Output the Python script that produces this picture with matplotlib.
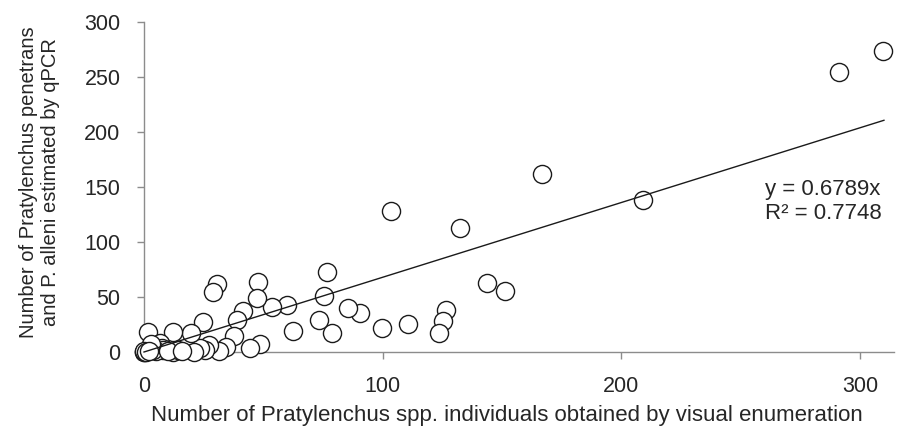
import numpy as np
import matplotlib
matplotlib.use("Agg")
import matplotlib.pyplot as plt

plt.rcParams['font.family'] = ['Liberation Sans', 'DejaVu Sans']

# visual counts (x) vs qPCR estimates (y)
visual = [309.5, 291, 209.2, 166.6, 132.5, 103.5, 151.4, 143.6, 126.4, 125.4,
          123.5, 110.5, 99.6, 90.5, 85.6, 78.6, 76.5, 75.4, 73.5, 62.6,
          59.7, 53.8, 47.7, 47.5, 48.6, 44.4, 41.6, 38.8, 37.8, 30.4,
          28.8, 24.8, 34.2, 31.5, 27.2, 25.5, 23.5, 21.0, 19.5, 12.3,
          12.3, 14.4, 1.8, 6.7, 7.7, 8.1, 5.0, 3.9, 3.0, 0.0,
          0.0, 0.0, 1.0, 2.0, 10.0, 16.0]
qpcr = [273, 254, 138, 162, 112.6, 128, 55.4, 62.6, 38.5, 28.6,
        16.9, 25.3, 21.4, 35, 40, 17.4, 72.6, 51.2, 28.9, 19.3,
        42.5, 41, 63.5, 49.2, 7.5, 4.0, 36.8, 29, 14.5, 62,
        54.5, 27.4, 4.5, 1.0, 6.3, 1.8, 3.3, 0.3, 17.2, 18.3,
        0.3, 1.8, 18.3, 8.5, 4.0, 1.8, 0.5, 1.8, 7.0, 0.0,
        0.0, 1.0, 0.0, 0.5, 1.0, 0.5]

slope = 0.6789
r2 = 0.7748
x_ticks = [0, 100, 200, 300]
y_ticks = [0, 50, 100, 150, 200, 250, 300]

grey = '#8c8c8c'
txt = '#262626'

fig = plt.figure(figsize=(8.99, 4.34), dpi=100)
ax = fig.add_axes([144/899, 1 - 352/434, (893.5 - 144)/899, (352 - 21.7)/434])

ax.scatter(visual, qpcr, s=170, facecolor='white', edgecolor='#1a1a1a',
           linewidth=1.0, zorder=3, clip_on=False)

xs = np.array([0, 310])
ax.plot(xs, slope * xs, color='#1a1a1a', lw=1.0, zorder=4, clip_on=False)

ax.text(260.2, 157.5, f"y = {slope}x\nR² = {r2}", fontsize=16, color=txt,
        ha='left', va='top', linespacing=1.2)

ax.set_xlim(0, 314)
ax.set_ylim(0, 300)
ax.set_xticks(x_ticks)
ax.set_yticks(y_ticks)
for s in ['top', 'right']:
    ax.spines[s].set_visible(False)
for s in ['left', 'bottom']:
    ax.spines[s].set_color(grey)
    ax.spines[s].set_linewidth(1.0)
ax.tick_params(axis='both', colors=grey, length=5, width=1.0, labelsize=15.5,
               labelcolor=txt)
ax.tick_params(axis='y', pad=12)
ax.tick_params(axis='x', pad=12)

fig.text(507/899, 1 - 416/434,
         "Number of Pratylenchus spp. individuals obtained by visual enumeration",
         ha='center', va='center', fontsize=16, color=txt)
fig.text(40/899, 1 - 182/434,
         "Number of Pratylenchus penetrans\nand P. alleni estimated by qPCR",
         ha='center', va='center', rotation=90, fontsize=14.5, color=txt,
         linespacing=1.2)

fig.savefig("out.png", dpi=100)
